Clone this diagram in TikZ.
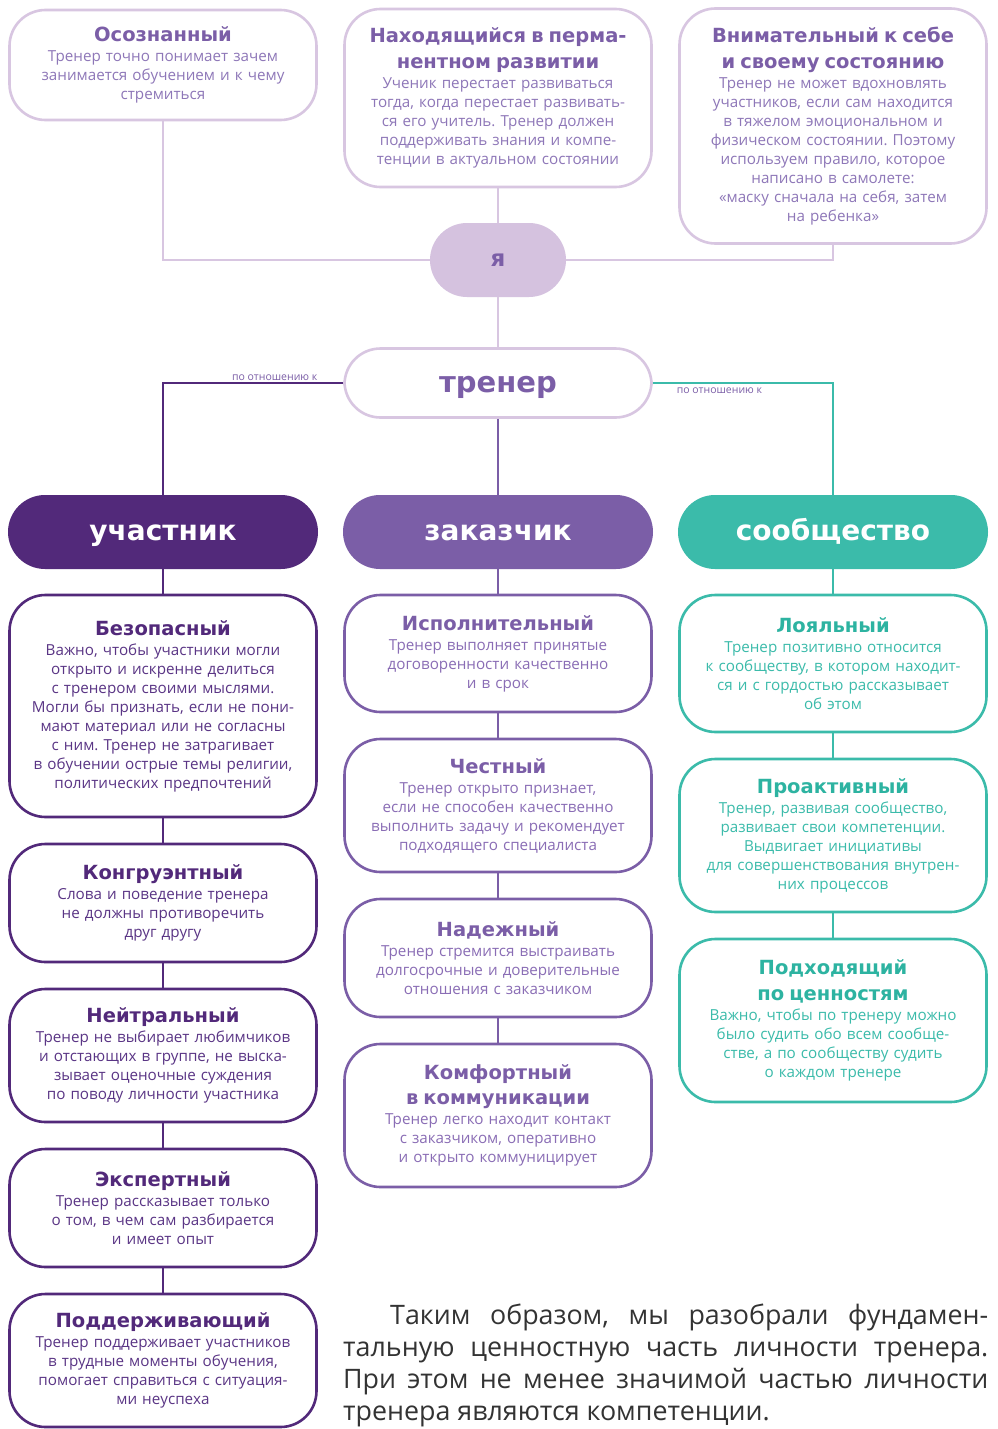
\documentclass[tikz,border=0pt]{standalone}
\usepackage{fontspec}
\setmainfont{Open Sans}
\newfontfamily\hfont{DejaVu Sans}
\frenchspacing
\definecolor{lilac}{HTML}{D8C6E1}
\definecolor{yafill}{HTML}{D5C2DF}
\definecolor{darkp}{HTML}{52297A}
\definecolor{midp}{HTML}{7B5EA7}
\definecolor{teal}{HTML}{3BBBAA}
\definecolor{tealt}{HTML}{2DB3A1}
\definecolor{topbody}{HTML}{8E77B8}
\definecolor{midbody}{HTML}{8A6DB5}
\definecolor{leftbody}{HTML}{5A3585}
\definecolor{parcol}{HTML}{333333}
\newcommand\cardtitle[2]{{\color{#1}\hfont\bfseries\fontsize{19.5}{25.5}\selectfont #2\par}\vspace{1pt}}
\tikzset{
  card/.style={draw, line width=2.6pt, rounded corners=36pt, minimum width=307pt,
    text width=304pt, align=center, fill=white, inner sep=0pt,
    font=\fontsize{15.2}{19}\selectfont\frenchspacing},
  topcard/.style={card, draw=lilac, text=topbody},
  leftcard/.style={card, draw=darkp, text=leftbody},
  midcard/.style={card, draw=midp, text=midbody},
  rightcard/.style={card, draw=teal, text=teal},
  header/.style={rounded corners=37pt, minimum width=310pt, minimum height=74pt,
    inner sep=0pt, text=white, text height=18pt, text depth=2pt,
    font=\hfont\bfseries\fontsize{28}{30}\selectfont},
  conn/.style={line width=2.6pt},
  lbl/.style={font=\fontsize{10.5}{11}\selectfont, text=midp, inner sep=2pt}
}
\begin{document}
\begin{tikzpicture}[x=1pt,y=-1pt]
\useasboundingbox[fill=white] (0,0) rectangle (997,1429);

% top row
\node[topcard, minimum height=110pt] (osoz) at (163,65)
  {\cardtitle{midp}{Осознанный}Тренер точно понимает зачем\\занимается обучением и к чему\\стремиться};
\node[topcard, minimum height=178pt] (perm) at (498,98)
  {\cardtitle{midp}{Находящийся в перма-\\нентном развитии}Ученик перестает развиваться\\тогда, когда перестает развивать-\\ся его учитель. Тренер должен\\поддерживать знания и компе-\\тенции в актуальном состоянии};
\node[topcard, minimum height=235pt] (vnim) at (833,126)
  {\cardtitle{midp}{Внимательный к себе\\и своему состоянию}Тренер не может вдохновлять\\участников, если сам находится\\в тяжелом эмоциональном и\\физическом состоянии. Поэтому\\используем правило, которое\\написано в самолете:\\«маску сначала на себя, затем\\на ребенка»};

\node[fill=yafill, rounded corners=37pt, minimum width=136pt, minimum height=74pt, inner sep=0pt,
  text height=12pt, text depth=0pt,
  text=midp, font=\hfont\bfseries\fontsize{23}{24}\selectfont] (ya) at (498,260) {я};

\node[draw=lilac, line width=2.6pt, fill=white, rounded corners=36pt, minimum width=307pt,
  minimum height=69pt, inner sep=0pt, text height=19pt, text depth=1pt,
  text=midp, font=\hfont\bfseries\fontsize{29}{30}\selectfont]
  (trener) at (498,383) {тренер};

% headers
\node[header, fill=darkp] (uch) at (163,532) {участник};
\node[header, fill=midp] (zak) at (498,532) {заказчик};
\node[header, fill=teal] (soob) at (833,532) {сообщество};

% left column
\node[leftcard, minimum height=222pt] (bez) at (163,706)
  {\cardtitle{darkp}{Безопасный}Важно, чтобы участники могли\\открыто и искренне делиться\\с тренером своими мыслями.\\Могли бы признать, если не пони-\\мают материал или не согласны\\с ним. Тренер не затрагивает\\в обучении острые темы религии,\\политических предпочтений};
\node[leftcard, minimum height=118pt] (kong) at (163,903)
  {\cardtitle{darkp}{Конгруэнтный}Слова и поведение тренера\\не должны противоречить\\друг другу};
\node[leftcard, minimum height=133pt] (neit) at (163,1055.5)
  {\cardtitle{darkp}{Нейтральный}Тренер не выбирает любимчиков\\и отстающих в группе, не выска-\\зывает оценочные суждения\\по поводу личности участника};
\node[leftcard, minimum height=118pt] (eksp) at (163,1208)
  {\cardtitle{darkp}{Экспертный}Тренер рассказывает только\\о том, в чем сам разбирается\\и имеет опыт};
\node[leftcard, minimum height=133pt] (podd) at (163,1360.5)
  {\cardtitle{darkp}{Поддерживающий}Тренер поддерживает участников\\в трудные моменты обучения,\\помогает справиться с ситуация-\\ми неуспеха};

% middle column
\node[midcard, minimum height=117pt] (isp) at (498,653.5)
  {\cardtitle{midp}{Исполнительный}Тренер выполняет принятые\\договоренности качественно\\и в срок};
\node[midcard, minimum height=133pt] (chest) at (498,805.5)
  {\cardtitle{midp}{Честный}Тренер открыто признает,\\если не способен качественно\\выполнить задачу и рекомендует\\подходящего специалиста};
\node[midcard, minimum height=118pt] (nad) at (498,958)
  {\cardtitle{midp}{Надежный}Тренер стремится выстраивать\\долгосрочные и доверительные\\отношения с заказчиком};
\node[midcard, minimum height=143pt] (komf) at (498,1115.5)
  {\cardtitle{midp}{Комфортный\\в коммуникации}Тренер легко находит контакт\\с заказчиком, оперативно\\и открыто коммуницирует};

% right column
\node[rightcard, minimum height=137pt] (loy) at (833,663.5)
  {\cardtitle{tealt}{Лояльный}Тренер позитивно относится\\к сообществу, в котором находит-\\ся и с гордостью рассказывает\\об этом};
\node[rightcard, minimum height=153pt] (proakt) at (833,835.5)
  {\cardtitle{tealt}{Проактивный}Тренер, развивая сообщество,\\развивает свои компетенции.\\Выдвигает инициативы\\для совершенствования внутрен-\\них процессов};
\node[rightcard, minimum height=163pt] (podh) at (833,1020.5)
  {\cardtitle{tealt}{Подходящий\\по ценностям}Важно, чтобы по тренеру можно\\было судить обо всем сообще-\\стве, а по сообществу судить\\о каждом тренере};

% connectors top
\draw[conn, lilac] (osoz.south) |- (ya.west);
\draw[conn, lilac] (vnim.south) |- (ya.east);
\draw[conn, lilac] (perm.south) -- (ya.north);
\draw[conn, lilac] (ya.south) -- (trener.north);

\draw[conn, darkp] (trener.west) -- node[lbl, above, pos=0.38, yshift=-1pt] {по отношению к} (trener.west -| uch.north) -- (uch.north);
\draw[conn, teal] (trener.east) -- node[lbl, below, pos=0.37, yshift=-1pt] {по отношению к} (trener.east -| soob.north) -- (soob.north);
\draw[conn, midp] (trener.south) -- (zak.north);

% column connectors
\draw[conn, darkp] (uch.south) -- (bez.north);
\draw[conn, darkp] (bez.south) -- (kong.north);
\draw[conn, darkp] (kong.south) -- (neit.north);
\draw[conn, darkp] (neit.south) -- (eksp.north);
\draw[conn, darkp] (eksp.south) -- (podd.north);

\draw[conn, midp] (zak.south) -- (isp.north);
\draw[conn, midp] (isp.south) -- (chest.north);
\draw[conn, midp] (chest.south) -- (nad.north);
\draw[conn, midp] (nad.south) -- (komf.north);

\draw[conn, teal] (soob.south) -- (loy.north);
\draw[conn, teal] (loy.south) -- (proakt.north);
\draw[conn, teal] (proakt.south) -- (podh.north);

% paragraph
\node[anchor=north west, text width=645pt, align=justify, inner sep=0pt, text=parcol,
  font=\fontsize{26.8}{32}\selectfont\frenchspacing] (para) at (343,1304)
  {\hspace*{47pt}Таким образом, мы разобрали фундамен-\linebreak тальную ценностную часть личности тренера.\linebreak При этом не менее значимой частью личности\linebreak тренера являются компетенции.};
\end{tikzpicture}
\end{document}
